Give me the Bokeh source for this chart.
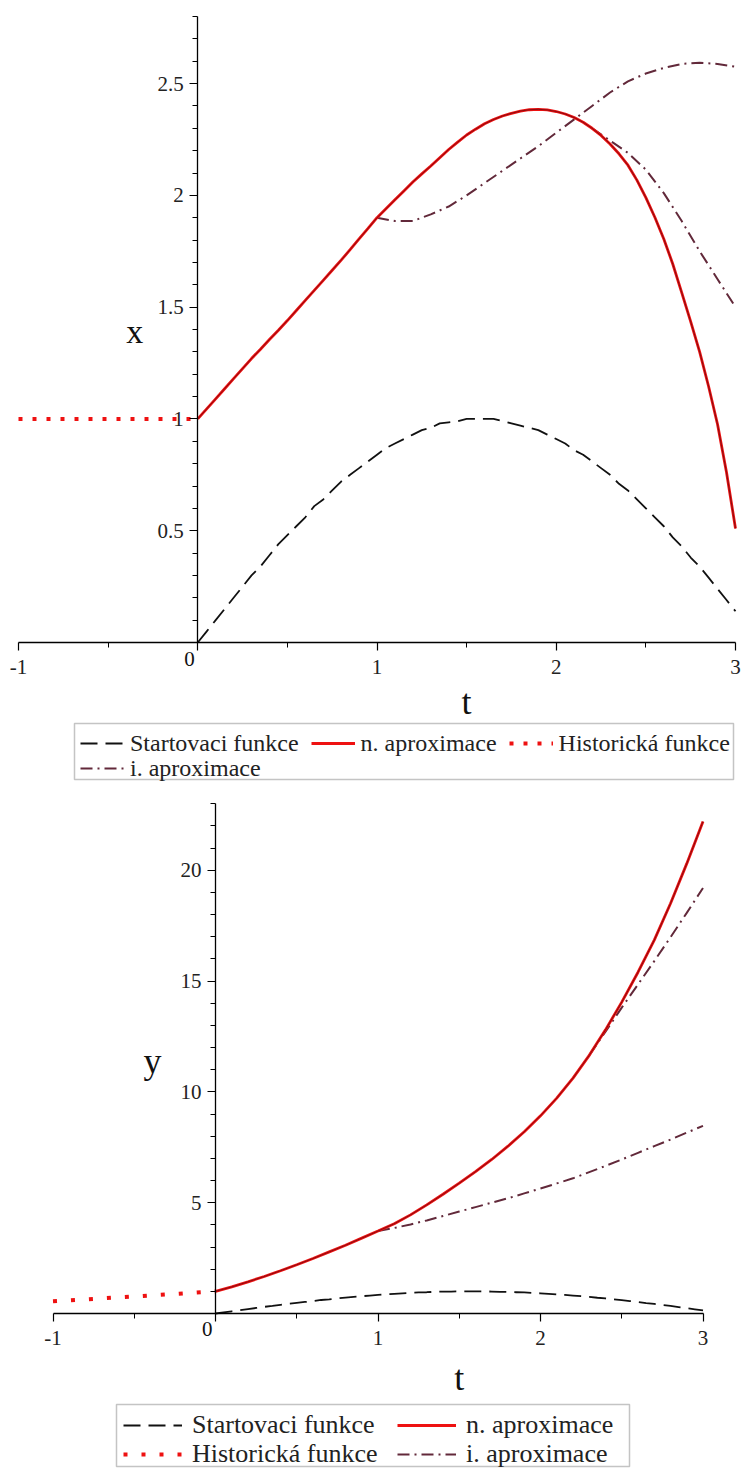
from bokeh.plotting import figure
from bokeh.models import (Range1d, FixedTicker, CustomJSTickFormatter, Legend,
                          LegendItem, Label, BoxAnnotation)
from bokeh.layouts import column
from bokeh.embed import file_html
from bokeh.resources import INLINE

FONT = "Liberation Serif"
RED = "#ee1111"
CORE = "#5a0a10"
MAROON = "#62293a"
BLACK = "#111111"

# ---------------- data ----------------
T05 = [0.0, 0.05, 0.1, 0.15, 0.2, 0.25, 0.3, 0.35, 0.4, 0.45, 0.5, 0.55, 0.6, 0.65,
       0.7, 0.75, 0.8, 0.85, 0.9, 0.95, 1.0, 1.05, 1.1, 1.15, 1.2, 1.25, 1.3, 1.35,
       1.4, 1.45, 1.5, 1.55, 1.6, 1.65, 1.7, 1.75, 1.8, 1.85, 1.9, 1.95, 2.0, 2.05,
       2.1, 2.15, 2.2, 2.25, 2.3, 2.35, 2.4, 2.45, 2.5, 2.55, 2.6, 2.65, 2.7, 2.75,
       2.8, 2.85, 2.9, 2.95, 3.0]
START = [0.00, 0.05, 0.10, 0.15, 0.20, 0.25, 0.30, 0.34, 0.39, 0.44, 0.48, 0.52, 0.56, 0.61,
         0.64, 0.68, 0.72, 0.75, 0.78, 0.81, 0.84, 0.87, 0.89, 0.91, 0.93, 0.95, 0.96, 0.98,
         0.985, 0.99, 1.00, 1.00, 1.00, 1.00, 0.99, 0.98, 0.97, 0.96, 0.95, 0.93, 0.91, 0.89,
         0.86, 0.84, 0.81, 0.78, 0.75, 0.71, 0.68, 0.64, 0.60, 0.56, 0.52, 0.47, 0.43, 0.38,
         0.34, 0.29, 0.24, 0.19, 0.14]

# x component
X_HIST_T = [-1.0, -0.5, 0.0]
X_HIST = [1.0, 1.0, 1.0]
X_N = [1.000, 1.045, 1.090, 1.135, 1.180, 1.225, 1.270, 1.312, 1.355, 1.397, 1.440,
       1.485, 1.530, 1.575, 1.620, 1.665, 1.710, 1.757, 1.805, 1.852, 1.900,
       1.940, 1.980, 2.020, 2.060, 2.096, 2.131, 2.168, 2.205, 2.238, 2.270,
       2.296, 2.320, 2.339, 2.355, 2.367, 2.377, 2.383, 2.385, 2.382, 2.375,
       2.364, 2.348, 2.327, 2.300, 2.268, 2.230, 2.186, 2.135, 2.068, 1.990,
       1.902, 1.805, 1.693, 1.565, 1.435, 1.300, 1.145, 0.975, 0.760, 0.510]
X_I1_T = [1.0, 1.1, 1.2, 1.3, 1.4, 1.5, 1.6, 1.7, 1.8, 1.9, 2.0,
          2.1, 2.2, 2.3, 2.4, 2.5, 2.6, 2.7, 2.8, 2.9, 3.0]
X_I1 = [1.90, 1.885, 1.885, 1.915, 1.95, 2.00, 2.055, 2.11, 2.165, 2.22, 2.28,
        2.34, 2.40, 2.46, 2.51, 2.545, 2.57, 2.588, 2.593, 2.588, 2.575]
X_I2_T = [2.2, 2.3, 2.4, 2.5, 2.6, 2.7, 2.8, 2.9, 3.0]
X_I2 = [2.30, 2.245, 2.19, 2.115, 2.01, 1.885, 1.75, 1.625, 1.50]

# y component
T10 = [0.0, 0.1, 0.2, 0.3, 0.4, 0.5, 0.6, 0.7, 0.8, 0.9, 1.0,
       1.1, 1.2, 1.3, 1.4, 1.5, 1.6, 1.7, 1.8, 1.9, 2.0,
       2.1, 2.2, 2.3, 2.4, 2.5, 2.6, 2.7, 2.8, 2.9, 3.0]
Y_HIST_T = [-1.0, -0.75, -0.5, -0.25, 0.0]
Y_HIST = [0.55, 0.66, 0.77, 0.885, 1.0]
Y_N = [1.00, 1.20, 1.43, 1.67, 1.93, 2.20, 2.48, 2.78, 3.08, 3.40, 3.72,
       4.05, 4.45, 4.90, 5.38, 5.88, 6.40, 6.95, 7.55, 8.20, 8.92,
       9.72, 10.62, 11.65, 12.80, 14.05, 15.40, 16.85, 18.50, 20.30, 22.20]
Y_I1_T = X_I1_T
Y_I1 = [3.72, 3.86, 4.02, 4.20, 4.40, 4.60, 4.80, 5.00, 5.20, 5.42, 5.64,
        5.87, 6.10, 6.38, 6.66, 6.95, 7.25, 7.55, 7.85, 8.16, 8.47]
Y_I2_T = [2.3, 2.4, 2.5, 2.6, 2.7, 2.8, 2.9, 3.0]
Y_I2 = [11.65, 12.72, 13.80, 14.85, 15.90, 16.98, 18.08, 19.20]

X_TICKS = [-1, 0, 1, 2, 3]
X_MINOR = [-0.5, 0.5, 1.5, 2.5]
XP_TICKS = [0.5, 1, 1.5, 2, 2.5]
XP_MINOR = [0.1, 0.2, 0.3, 0.4, 0.6, 0.7, 0.8, 0.9, 1.1, 1.2, 1.3, 1.4,
            1.6, 1.7, 1.8, 1.9, 2.1, 2.2, 2.3, 2.4, 2.6, 2.7, 2.8]
YP_TICKS = [5, 10, 15, 20]
YP_MINOR = [1, 2, 3, 4, 6, 7, 8, 9, 11, 12, 13, 14, 16, 17, 18, 19, 21, 22, 23]

LABELS = ["Startovaci funkce", "n. aproximace", "Historická funkce", "i. aproximace"]

W = 741


class Frame:
    """Maps page pixels of a full-frame figure to data coordinates."""
    def __init__(self, height, px_lo, px_hi, py_zero, py_top, v_top):
        self.h = height
        kx = (px_hi - px_lo) / 4.0
        ky = (py_zero - py_top) / v_top
        self.x0 = -1 - px_lo / kx
        self.x1 = 3 + (W - px_hi) / kx
        self.y0 = -(height - py_zero) / ky
        self.y1 = v_top + py_top / ky

    def dx(self, px):
        return self.x0 + px / W * (self.x1 - self.x0)

    def dy(self, py):
        return self.y1 - py / self.h * (self.y1 - self.y0)


def make_fig(fr, v_top, yticks, yminor):
    p = figure(width=W, height=fr.h, x_range=Range1d(fr.x0, fr.x1),
               y_range=Range1d(fr.y0, fr.y1),
               output_backend="svg", toolbar_location=None,
               min_border_left=0, min_border_right=0,
               min_border_top=0, min_border_bottom=0)
    p.grid.visible = False
    p.outline_line_color = None
    p.background_fill_color = "white"
    p.border_fill_color = "white"
    xa = p.xaxis[0]
    ya = p.yaxis[0]
    xa.fixed_location = 0
    ya.fixed_location = 0
    xa.bounds = (-1, 3)
    ya.bounds = (0, v_top)
    xa.ticker = FixedTicker(ticks=X_TICKS, minor_ticks=X_MINOR)
    ya.ticker = FixedTicker(ticks=yticks, minor_ticks=yminor)
    for ax in (xa, ya):
        ax.formatter = CustomJSTickFormatter(
            code="return tick == 0 ? '' : tick.toString();")
        ax.axis_line_color = "black"
        ax.axis_line_width = 1.3
        ax.major_tick_line_color = "black"
        ax.major_tick_line_width = 1.2
        ax.minor_tick_line_color = "black"
        ax.minor_tick_line_width = 1
        ax.major_tick_in = 0
        ax.major_tick_out = 8
        ax.minor_tick_in = 0
        ax.minor_tick_out = 5
        ax.major_label_text_font = FONT
        ax.major_label_text_font_size = "21px"
        ax.major_label_text_color = "#222222"
    xa.major_label_standoff = 9
    ya.major_label_standoff = 6
    return p


def draw(p, t_n, hist_t, hist_v, n_v, i1_t, i1_v, i2_t, i2_v, dot_dash):
    r_start = p.line(T05, START, line_color=BLACK, line_width=1.8, line_dash="17 8")
    r_hist = p.line(hist_t, hist_v, line_color=RED, line_width=4, line_dash=dot_dash)
    r_i1 = p.line(i1_t, i1_v, line_color=MAROON, line_width=2, line_dash="12 5 2 5")
    r_i2 = p.line(i2_t, i2_v, line_color=MAROON, line_width=2, line_dash="12 5 2 5")
    r_n = p.line(t_n, n_v, line_color=RED, line_width=2.8)
    p.line(t_n, n_v, line_color=CORE, line_width=0.7)
    return [
        LegendItem(label=LABELS[0], renderers=[r_start]),
        LegendItem(label=LABELS[1], renderers=[r_n]),
        LegendItem(label=LABELS[2], renderers=[r_hist]),
        LegendItem(label=LABELS[3], renderers=[r_i1]),
    ]


def text(p, x, y, s, size, x_off=0, y_off=0, align="center"):
    p.add_layout(Label(x=x, y=y, x_offset=x_off, y_offset=y_off, text=s,
                       text_font=FONT, text_font_size=size, text_align=align,
                       text_baseline="middle", text_color="#111111"))


def legend_box(p, fr, left, right, top, bottom):
    p.add_layout(BoxAnnotation(left=fr.dx(left), right=fr.dx(right),
                               top=fr.dy(top), bottom=fr.dy(bottom),
                               fill_color=None, fill_alpha=0,
                               line_color="#3c3c3c", line_width=1.5))


def legend_row(p, fr, items, x_px, bottom_px, glyph_w, standoff, spacing, size, label_w):
    leg = Legend(items=items, orientation="horizontal",
                 location=(x_px, fr.h - bottom_px),
                 glyph_width=glyph_w, glyph_height=16, label_standoff=standoff,
                 spacing=spacing, padding=0, margin=0, label_width=label_w,
                 border_line_color=None, background_fill_alpha=0,
                 label_text_font=FONT, label_text_font_size=size,
                 label_text_color="#222222", label_height=16)
    p.add_layout(leg)


# ---------------- top plot: x(t) ----------------
F1 = Frame(790, 18, 735, 642, 16, 2.8)
p1 = make_fig(F1, 2.8, XP_TICKS, XP_MINOR)
it1 = draw(p1, T05, X_HIST_T, X_HIST, X_N, X_I1_T, X_I1, X_I2_T, X_I2, "4 10")
legend_box(p1, F1, 74, 733, 723, 779)
legend_row(p1, F1, it1[:3], 80, 756.5, 44, 6, 12, "24px", 20)
legend_row(p1, F1, it1[3:], 80, 781.5, 44, 6, 12, "24px", 20)
text(p1, 1.5, 0, "t", "36px", y_off=-59)
text(p1, 0, 1.39, "x", "34px", x_off=-63)
text(p1, 0, 0, "0", "21px", x_off=-3, y_off=-16, align="right")

# ---------------- bottom plot: y(t) ----------------
F2 = Frame(680, 52.5, 702.5, 523, 13.3, 23)
p2 = make_fig(F2, 23, YP_TICKS, YP_MINOR)
it2 = draw(p2, T10, Y_HIST_T, Y_HIST, Y_N, Y_I1_T, Y_I1, Y_I2_T, Y_I2, "4 14")
legend_box(p2, F2, 116, 629, 614, 676)
legend_row(p2, F2, it2[:2], 123, 649.5, 59, 10, 19, "26px", 186)
legend_row(p2, F2, it2[2:], 123, 678.5, 59, 10, 19, "26px", 186)
text(p2, 1.5, 0, "t", "36px", y_off=-64)
text(p2, 0, 11.4, "y", "36px", x_off=-63)
text(p2, 0, 0, "0", "21px", x_off=-3, y_off=-15, align="right")

layout = column(p1, p2)
open("out.html", "w").write(file_html(layout, INLINE))
